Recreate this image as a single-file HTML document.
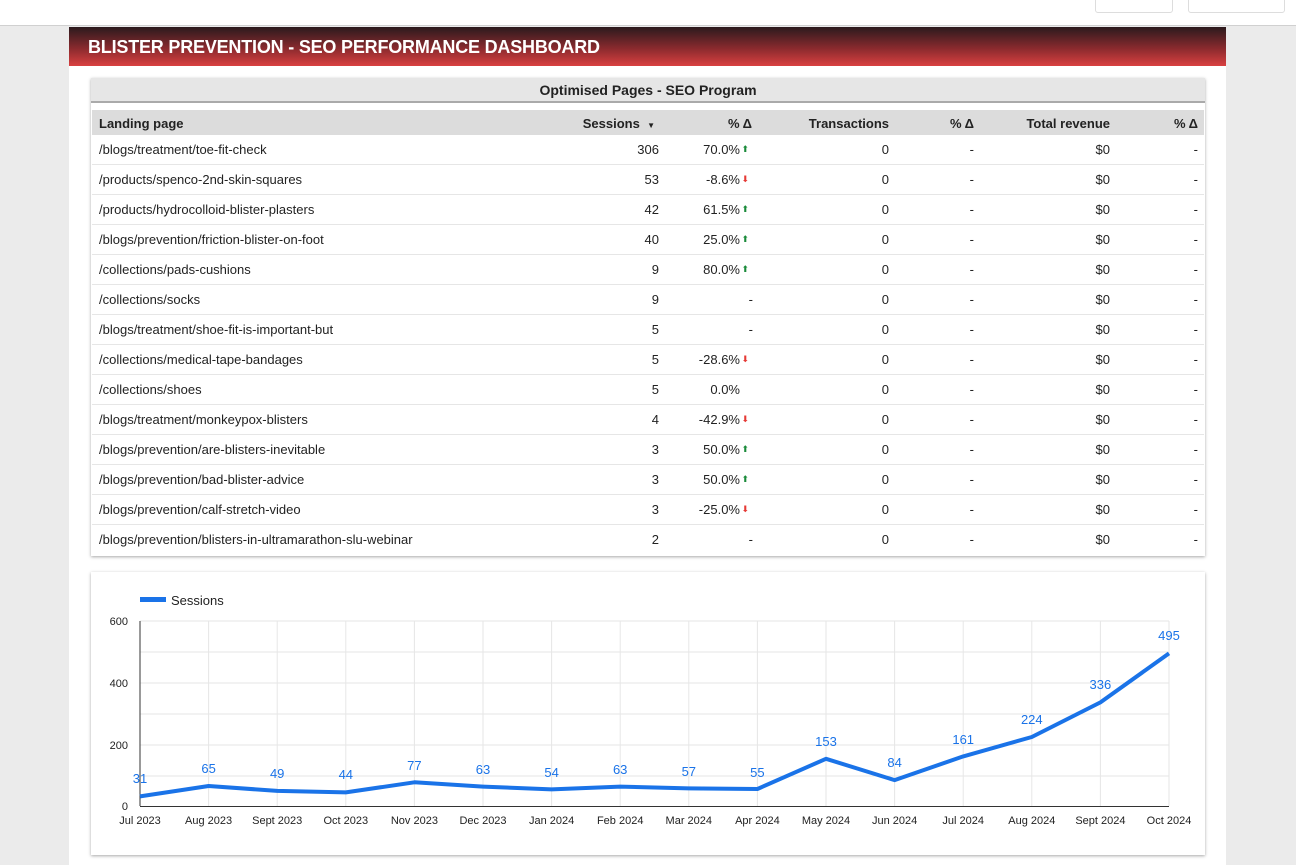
<!DOCTYPE html>
<html><head><meta charset="utf-8"><style>
*{margin:0;padding:0;box-sizing:border-box}
body{width:1296px;height:865px;background:#ebebeb;font-family:"Liberation Sans",Arial,sans-serif;position:relative;overflow:hidden;color:#222}
.top{position:absolute;left:0;top:0;width:1296px;height:26px;background:#fff;border-bottom:1px solid #d0d0d0}
.btn{position:absolute;top:-4px;height:17px;border:1px solid #ddd;border-radius:3px;background:#fff}
.panel{position:absolute;left:69px;top:27px;width:1157px;height:838px;background:#fff}
.hdr{position:absolute;left:69px;top:27px;width:1157px;height:39px;background:linear-gradient(#2b1a1d,#8a2a2e 55%,#d94040);color:#fff;font-weight:bold;font-size:18px;padding:10px 0 0 19px;letter-spacing:-0.2px}
.card{position:absolute;left:91px;width:1114px;background:#fff;box-shadow:0 1px 3px rgba(0,0,0,.35)}
.ttl{position:absolute;left:91px;top:78px;width:1114px;height:25px;background:#e6e6e6;border-bottom:2px solid #aaa;text-align:center;font-weight:bold;font-size:14px;line-height:24px}
.th{position:absolute;left:92px;top:110px;width:1112px;height:25px;background:#dcdcdc;font-size:13px;font-weight:bold}
.row{position:absolute;left:92px;width:1112px;height:30px;border-bottom:1px solid #e6e6e6;font-size:13px}
.c{position:absolute;top:7px;white-space:nowrap}
.th .c{top:6px}
.up{color:#1a8a3a;font-size:9px}
.dn{color:#e53935;font-size:9px}
</style></head><body>
<div class="top"><div class="btn" style="left:1095px;width:78px"></div><div class="btn" style="left:1188px;width:97px"></div></div>
<div class="panel"></div>
<div class="hdr">BLISTER PREVENTION - SEO PERFORMANCE DASHBOARD</div>
<div class="card" style="top:78px;height:478px"></div>
<div class="ttl">Optimised Pages - SEO Program</div>
<div class="th">
<span class="c" style="left:7px">Landing page</span>
<span class="c" style="right:549px">Sessions &nbsp;<span style="font-size:8px">▼</span></span>
<span class="c" style="right:452px">% Δ</span>
<span class="c" style="right:315px">Transactions</span>
<span class="c" style="right:230px">% Δ</span>
<span class="c" style="right:94px">Total revenue</span>
<span class="c" style="right:6px">% Δ</span>
</div>

<div class="row" style="top:135px"><span class="c" style="left:7px">/blogs/treatment/toe-fit-check</span><span class="c" style="right:545px">306</span><span class="c" style="right:464px">70.0%</span><span class="c up" style="right:455px;top:9px">⬆</span><span class="c" style="right:315px">0</span><span class="c" style="right:230px">-</span><span class="c" style="right:94px">$0</span><span class="c" style="right:6px">-</span></div>
<div class="row" style="top:165px"><span class="c" style="left:7px">/products/spenco-2nd-skin-squares</span><span class="c" style="right:545px">53</span><span class="c" style="right:464px">-8.6%</span><span class="c dn" style="right:455px;top:9px">⬇</span><span class="c" style="right:315px">0</span><span class="c" style="right:230px">-</span><span class="c" style="right:94px">$0</span><span class="c" style="right:6px">-</span></div>
<div class="row" style="top:195px"><span class="c" style="left:7px">/products/hydrocolloid-blister-plasters</span><span class="c" style="right:545px">42</span><span class="c" style="right:464px">61.5%</span><span class="c up" style="right:455px;top:9px">⬆</span><span class="c" style="right:315px">0</span><span class="c" style="right:230px">-</span><span class="c" style="right:94px">$0</span><span class="c" style="right:6px">-</span></div>
<div class="row" style="top:225px"><span class="c" style="left:7px">/blogs/prevention/friction-blister-on-foot</span><span class="c" style="right:545px">40</span><span class="c" style="right:464px">25.0%</span><span class="c up" style="right:455px;top:9px">⬆</span><span class="c" style="right:315px">0</span><span class="c" style="right:230px">-</span><span class="c" style="right:94px">$0</span><span class="c" style="right:6px">-</span></div>
<div class="row" style="top:255px"><span class="c" style="left:7px">/collections/pads-cushions</span><span class="c" style="right:545px">9</span><span class="c" style="right:464px">80.0%</span><span class="c up" style="right:455px;top:9px">⬆</span><span class="c" style="right:315px">0</span><span class="c" style="right:230px">-</span><span class="c" style="right:94px">$0</span><span class="c" style="right:6px">-</span></div>
<div class="row" style="top:285px"><span class="c" style="left:7px">/collections/socks</span><span class="c" style="right:545px">9</span><span class="c" style="right:451px">-</span><span class="c" style="right:315px">0</span><span class="c" style="right:230px">-</span><span class="c" style="right:94px">$0</span><span class="c" style="right:6px">-</span></div>
<div class="row" style="top:315px"><span class="c" style="left:7px">/blogs/treatment/shoe-fit-is-important-but</span><span class="c" style="right:545px">5</span><span class="c" style="right:451px">-</span><span class="c" style="right:315px">0</span><span class="c" style="right:230px">-</span><span class="c" style="right:94px">$0</span><span class="c" style="right:6px">-</span></div>
<div class="row" style="top:345px"><span class="c" style="left:7px">/collections/medical-tape-bandages</span><span class="c" style="right:545px">5</span><span class="c" style="right:464px">-28.6%</span><span class="c dn" style="right:455px;top:9px">⬇</span><span class="c" style="right:315px">0</span><span class="c" style="right:230px">-</span><span class="c" style="right:94px">$0</span><span class="c" style="right:6px">-</span></div>
<div class="row" style="top:375px"><span class="c" style="left:7px">/collections/shoes</span><span class="c" style="right:545px">5</span><span class="c" style="right:464px">0.0%</span><span class="c" style="right:315px">0</span><span class="c" style="right:230px">-</span><span class="c" style="right:94px">$0</span><span class="c" style="right:6px">-</span></div>
<div class="row" style="top:405px"><span class="c" style="left:7px">/blogs/treatment/monkeypox-blisters</span><span class="c" style="right:545px">4</span><span class="c" style="right:464px">-42.9%</span><span class="c dn" style="right:455px;top:9px">⬇</span><span class="c" style="right:315px">0</span><span class="c" style="right:230px">-</span><span class="c" style="right:94px">$0</span><span class="c" style="right:6px">-</span></div>
<div class="row" style="top:435px"><span class="c" style="left:7px">/blogs/prevention/are-blisters-inevitable</span><span class="c" style="right:545px">3</span><span class="c" style="right:464px">50.0%</span><span class="c up" style="right:455px;top:9px">⬆</span><span class="c" style="right:315px">0</span><span class="c" style="right:230px">-</span><span class="c" style="right:94px">$0</span><span class="c" style="right:6px">-</span></div>
<div class="row" style="top:465px"><span class="c" style="left:7px">/blogs/prevention/bad-blister-advice</span><span class="c" style="right:545px">3</span><span class="c" style="right:464px">50.0%</span><span class="c up" style="right:455px;top:9px">⬆</span><span class="c" style="right:315px">0</span><span class="c" style="right:230px">-</span><span class="c" style="right:94px">$0</span><span class="c" style="right:6px">-</span></div>
<div class="row" style="top:495px"><span class="c" style="left:7px">/blogs/prevention/calf-stretch-video</span><span class="c" style="right:545px">3</span><span class="c" style="right:464px">-25.0%</span><span class="c dn" style="right:455px;top:9px">⬇</span><span class="c" style="right:315px">0</span><span class="c" style="right:230px">-</span><span class="c" style="right:94px">$0</span><span class="c" style="right:6px">-</span></div>
<div class="row" style="top:525px;border-bottom:none"><span class="c" style="left:7px">/blogs/prevention/blisters-in-ultramarathon-slu-webinar</span><span class="c" style="right:545px">2</span><span class="c" style="right:451px">-</span><span class="c" style="right:315px">0</span><span class="c" style="right:230px">-</span><span class="c" style="right:94px">$0</span><span class="c" style="right:6px">-</span></div>

<div class="card" style="top:572px;height:283px"></div>
<svg style="position:absolute;left:0;top:0" width="1296" height="865" font-family="Liberation Sans, Arial, sans-serif">
<rect x="140" y="597" width="26" height="5" fill="#1a73e8"/>
<text x="171" y="605" font-size="13" fill="#222">Sessions</text>
<g stroke="#e6e6e6" stroke-width="1">
<line x1="140" y1="621" x2="1169" y2="621"/><line x1="140" y1="652" x2="1169" y2="652"/><line x1="140" y1="683" x2="1169" y2="683"/><line x1="140" y1="714" x2="1169" y2="714"/><line x1="140" y1="745" x2="1169" y2="745"/><line x1="140" y1="776" x2="1169" y2="776"/>
<line x1="208.6" y1="621" x2="208.6" y2="806"/><line x1="277.2" y1="621" x2="277.2" y2="806"/><line x1="345.8" y1="621" x2="345.8" y2="806"/><line x1="414.4" y1="621" x2="414.4" y2="806"/><line x1="483" y1="621" x2="483" y2="806"/><line x1="551.6" y1="621" x2="551.6" y2="806"/><line x1="620.2" y1="621" x2="620.2" y2="806"/><line x1="688.8" y1="621" x2="688.8" y2="806"/><line x1="757.4" y1="621" x2="757.4" y2="806"/><line x1="826" y1="621" x2="826" y2="806"/><line x1="894.6" y1="621" x2="894.6" y2="806"/><line x1="963.2" y1="621" x2="963.2" y2="806"/><line x1="1031.8" y1="621" x2="1031.8" y2="806"/><line x1="1100.4" y1="621" x2="1100.4" y2="806"/><line x1="1169" y1="621" x2="1169" y2="806"/>
</g>
<line x1="140" y1="621" x2="140" y2="806" stroke="#333"/>
<line x1="140" y1="806.5" x2="1169" y2="806.5" stroke="#333"/>
<g font-size="11" fill="#222" text-anchor="end"><text x="128" y="625">600</text><text x="128" y="687">400</text><text x="128" y="749">200</text><text x="128" y="810">0</text></g>
<polyline fill="none" stroke="#1a73e8" stroke-width="4" stroke-linejoin="round" points="140,796.4 208.6,786 277.2,790.9 345.8,792.4 414.4,782.3 483,786.6 551.6,789.4 620.2,786.6 688.8,788.4 757.4,789 826,758.8 894.6,780.1 963.2,756.4 1031.8,737 1100.4,702.4 1169,653.4"/>
<g font-size="13" fill="#1a73e8" text-anchor="middle">
<text x="140" y="783">31</text><text x="208.6" y="773">65</text><text x="277.2" y="778">49</text><text x="345.8" y="779">44</text><text x="414.4" y="770">77</text><text x="483" y="774">63</text><text x="551.6" y="777">54</text><text x="620.2" y="774">63</text><text x="688.8" y="776">57</text><text x="757.4" y="777">55</text><text x="826" y="746">153</text><text x="894.6" y="767">84</text><text x="963.2" y="744">161</text><text x="1031.8" y="724">224</text><text x="1100.4" y="689">336</text><text x="1169" y="640">495</text>
</g>
<g font-size="11" fill="#222" text-anchor="middle">
<text x="140" y="824">Jul 2023</text><text x="208.6" y="824">Aug 2023</text><text x="277.2" y="824">Sept 2023</text><text x="345.8" y="824">Oct 2023</text><text x="414.4" y="824">Nov 2023</text><text x="483" y="824">Dec 2023</text><text x="551.6" y="824">Jan 2024</text><text x="620.2" y="824">Feb 2024</text><text x="688.8" y="824">Mar 2024</text><text x="757.4" y="824">Apr 2024</text><text x="826" y="824">May 2024</text><text x="894.6" y="824">Jun 2024</text><text x="963.2" y="824">Jul 2024</text><text x="1031.8" y="824">Aug 2024</text><text x="1100.4" y="824">Sept 2024</text><text x="1169" y="824">Oct 2024</text>
</g>
</svg>
</body></html>
